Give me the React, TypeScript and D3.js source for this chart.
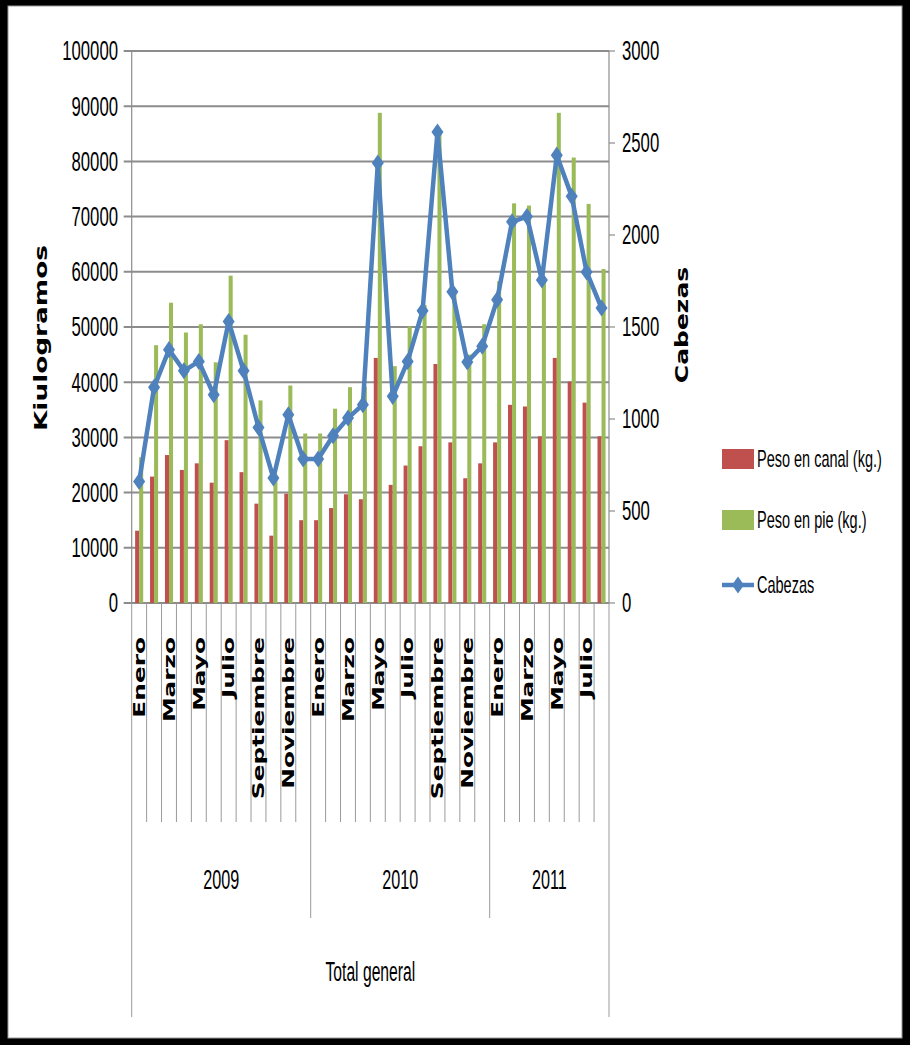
import React from "react";
import * as d3 from "d3";

// Monthly slaughter figures, 2009 – Aug 2011
const years = ["2009", "2010", "2011"];
const monthsPerYear = [12, 12, 8];
const monthNames = [
  "Enero", "Febrero", "Marzo", "Abril", "Mayo", "Junio",
  "Julio", "Agosto", "Septiembre", "Octubre", "Noviembre", "Diciembre",
];

// Peso en canal (kg.)
const pesoCanal = [
  13100, 22900, 26800, 24100, 25300, 21800, 29500, 23700, 18000, 12200, 19800, 15000,
  15000, 17200, 19700, 18800, 44400, 21400, 24900, 28400, 43300, 29100, 22600, 25300,
  29100, 35900, 35600, 30200, 44400, 40100, 36300, 30200,
];
// Peso en pie (kg.)
const pesoPie = [
  26400, 46700, 54400, 49000, 50500, 43600, 59300, 48600, 36700, 23000, 39400, 30700,
  30700, 35200, 39100, 39200, 88800, 42900, 50100, 54000, 85000, 56000, 45000, 50500,
  58300, 72400, 72000, 59000, 88800, 80700, 72300, 60500,
];
// Cabezas
const cabezas = [
  660, 1172, 1377, 1262, 1313, 1132, 1530, 1262, 954, 679, 1023, 783,
  783, 909, 1005, 1078, 2391, 1123, 1313, 1588, 2560, 1692, 1310, 1396,
  1648, 2072, 2100, 1755, 2434, 2210, 1799, 1603,
];

const leftTicks = [0, 10000, 20000, 30000, 40000, 50000, 60000, 70000, 80000, 90000, 100000];
const rightTicks = [0, 500, 1000, 1500, 2000, 2500, 3000];

const seriesKeys = ["canal", "pie"];
const seriesNames = ["Peso en canal (kg.)", "Peso en pie (kg.)", "Cabezas"];

const RED = "#C0504D";
const GREEN = "#9BBB59";
const BLUE = "#4F81BD";
const GRID = "#8c8c8c";

const W = 910;
const H = 1045;
const plotL = 131.7;
const plotR = 609;
const plotT = 51;
const plotB = 603;

const SANS = "'Liberation Sans', Arial, sans-serif";
const BOLD = "'DejaVu Sans', 'Liberation Sans', sans-serif";

type TxtProps = {
  x: number;
  y: number;
  text: string;
  size: number;
  sx: number;
  anchor?: "start" | "middle" | "end";
  rotate?: number;
  bold?: boolean;
  dy?: string;
};

// Text scaled along its own reading direction
function Txt({ x, y, text, size, sx, anchor = "start", rotate = 0, bold = false, dy = "0.35em" }: TxtProps) {
  return (
    <text
      transform={`translate(${x},${y}) rotate(${rotate}) scale(${sx},1)`}
      fontSize={size}
      fontFamily={bold ? BOLD : SANS}
      fontWeight={bold ? "bold" : "normal"}
      textAnchor={anchor}
      dy={dy}
      fill="#000"
    >
      {text}
    </text>
  );
}

export default function App() {
  const categories: { year: string; month: string; monthIdx: number; yearIdx: number }[] = [];
  years.forEach((yr, yi) => {
    for (let m = 0; m < monthsPerYear[yi]; m++) {
      categories.push({ year: yr, month: monthNames[m], monthIdx: m, yearIdx: yi });
    }
  });
  const n = categories.length;

  const x = d3.scaleBand<number>().domain(d3.range(n)).range([plotL, plotR]).padding(0);
  const bw = x.bandwidth();
  const x1 = d3.scaleBand<string>().domain(seriesKeys).range([0, bw]).paddingInner(0).paddingOuter(0.85);
  const yL = d3.scaleLinear().domain([0, 100000]).range([plotB, plotT]);
  const yR = d3.scaleLinear().domain([0, 3000]).range([plotB, plotT]);

  const cx = (i: number) => (x(i) as number) + bw / 2;

  const line = d3
    .line<number>()
    .x((_, i) => cx(i))
    .y((d) => yR(d));

  // diamond: d3 symbol, widened a bit
  const diamond = d3.symbol().type(d3.symbolDiamond).size(84)() as string;

  // year boundaries
  const yearStarts: number[] = [];
  let acc = 0;
  monthsPerYear.forEach((c) => {
    yearStarts.push(acc);
    acc += c;
  });

  const innerLineBottom = 822;
  const yearLineBottom = 918;
  const outerLineBottom = 1017;

  const legendX = 722;
  const legendRows = [459, 520, 585];

  return (
    <svg
      width={W}
      height={H}
      viewBox={`0 0 ${W} ${H}`}
      style={{ position: "absolute", left: 0, top: 0, background: "#fff" }}
    >
      {/* frame */}
      <rect x={0} y={0} width={W} height={H} fill="#000" />
      <rect x={8} y={6} width={W - 16} height={H - 13} fill="#fff" stroke="#9a9a9a" strokeWidth={1} />

      {/* horizontal gridlines */}
      {leftTicks.map((t) => (
        <line key={"g" + t} x1={plotL - 8} x2={plotR} y1={yL(t)} y2={yL(t)} stroke={GRID} strokeWidth={2} />
      ))}

      {/* left axis */}
      <line x1={plotL} x2={plotL} y1={plotT} y2={plotB} stroke={GRID} strokeWidth={1.2} />
      {leftTicks.map((t) => (
        <Txt key={"lt" + t} x={118} y={yL(t)} text={String(t)} size={27} sx={0.62} anchor="end" />
      ))}

      {/* right axis */}
      <line x1={plotR} x2={plotR} y1={plotT} y2={plotB} stroke={GRID} strokeWidth={1.2} />
      {rightTicks.map((t) => (
        <g key={"rt" + t}>
          <line x1={plotR} x2={plotR + 6} y1={yR(t)} y2={yR(t)} stroke={GRID} strokeWidth={1.2} />
          <Txt x={622} y={yR(t)} text={String(t)} size={27} sx={0.62} anchor="start" />
        </g>
      ))}

      {/* bars */}
      {categories.map((_, i) => (
        <g key={"b" + i} transform={`translate(${x(i)},0)`}>
          <rect
            x={x1("canal")}
            width={x1.bandwidth()}
            y={yL(pesoCanal[i])}
            height={yL(0) - yL(pesoCanal[i])}
            fill={RED}
          />
          <rect
            x={x1("pie")}
            width={x1.bandwidth()}
            y={yL(pesoPie[i])}
            height={yL(0) - yL(pesoPie[i])}
            fill={GREEN}
          />
        </g>
      ))}

      {/* Cabezas line */}
      <path
        d={line(cabezas) as string}
        fill="none"
        stroke={BLUE}
        strokeWidth={4.5}
        strokeLinejoin="round"
      />
      {cabezas.map((v, i) => (
        <path key={"m" + i} d={diamond} transform={`translate(${cx(i)},${yR(v)}) scale(1.22,1)`} fill={BLUE} />
      ))}

      {/* category separators */}
      {d3.range(n + 1).map((i) => {
        const xx = i === n ? plotR : (x(i) as number);
        let bottom = innerLineBottom;
        if (i === 0 || i === n) bottom = outerLineBottom;
        else if (yearStarts.includes(i)) bottom = yearLineBottom;
        return <line key={"s" + i} x1={xx} x2={xx} y1={plotB} y2={bottom} stroke="#9a9a9a" strokeWidth={1} />;
      })}

      {/* month labels (every other month) */}
      {categories.map((c, i) =>
        c.monthIdx % 2 === 0 ? (
          <Txt
            key={"ml" + i}
            x={cx(i)}
            y={637}
            text={c.month}
            size={16}
            sx={1.55}
            anchor="end"
            rotate={-90}
            bold
            dy="0.36em"
          />
        ) : null
      )}

      {/* year labels */}
      {years.map((yr, yi) => {
        const a = x(yearStarts[yi]) as number;
        const b = yi + 1 < years.length ? (x(yearStarts[yi + 1]) as number) : plotR;
        return <Txt key={"y" + yr} x={(a + b) / 2} y={880} text={yr} size={27} sx={0.6} anchor="middle" />;
      })}

      <Txt x={(plotL + plotR) / 2} y={972} text="Total general" size={27} sx={0.58} anchor="middle" />

      {/* axis titles */}
      <Txt x={41.5} y={338} text="Kiulogramos" size={17} sx={1.55} anchor="middle" rotate={-90} bold />
      <Txt x={681.7} y={325} text="Cabezas" size={17} sx={1.47} anchor="middle" rotate={-90} bold />

      {/* legend */}
      <rect x={legendX} y={legendRows[0] - 10} width={32} height={20} fill={RED} />
      <Txt x={757} y={legendRows[0]} text={seriesNames[0]} size={23} sx={0.63} />
      <rect x={legendX} y={legendRows[1] - 10} width={32} height={20} fill={GREEN} />
      <Txt x={757} y={legendRows[1]} text={seriesNames[1]} size={23} sx={0.63} />
      <line x1={legendX} x2={legendX + 32} y1={legendRows[2]} y2={legendRows[2]} stroke={BLUE} strokeWidth={4.5} />
      <path d={diamond} transform={`translate(${legendX + 16},${legendRows[2]}) scale(1.22,1)`} fill={BLUE} />
      <Txt x={757} y={legendRows[2]} text={seriesNames[2]} size={23} sx={0.63} />
    </svg>
  );
}
